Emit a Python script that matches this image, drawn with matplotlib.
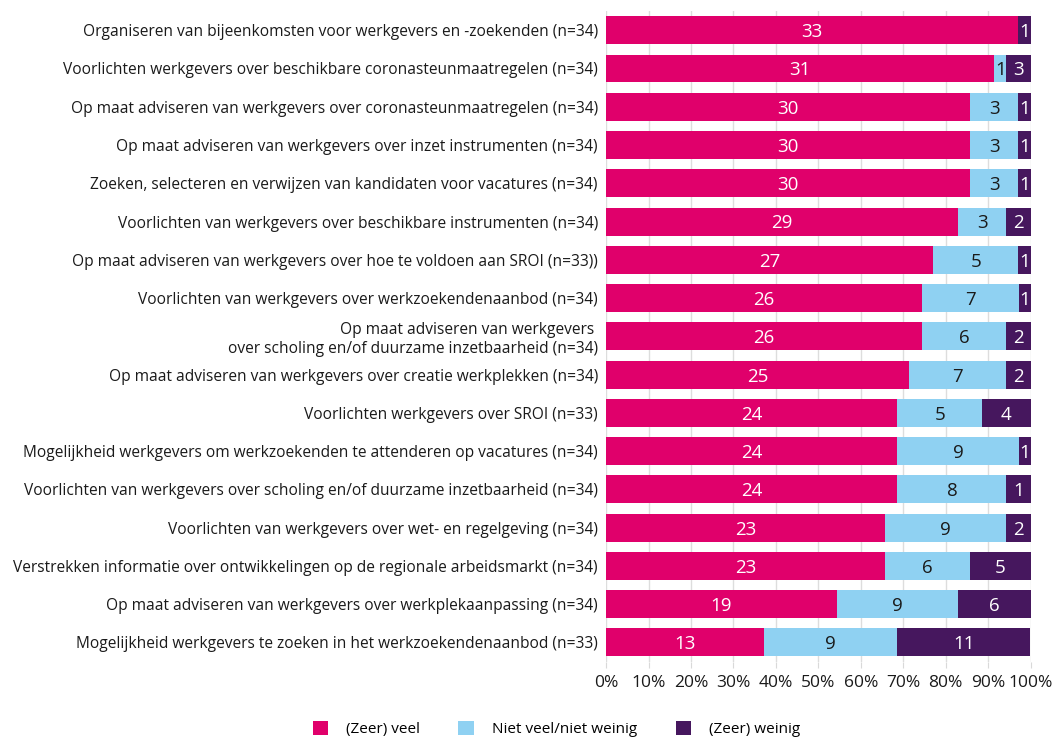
import numpy as np
import matplotlib
matplotlib.use("Agg")
from matplotlib import pyplot as plt
from matplotlib.patches import Patch

plt.rcParams['font.family'] = ['Open Sans', 'DejaVu Sans']

categories = [
    "Organiseren van bijeenkomsten voor werkgevers en -zoekenden (n=34)",
    "Voorlichten werkgevers over beschikbare coronasteunmaatregelen (n=34)",
    "Op maat adviseren van werkgevers over coronasteunmaatregelen (n=34)",
    "Op maat adviseren van werkgevers over inzet instrumenten (n=34)",
    "Zoeken, selecteren en verwijzen van kandidaten voor vacatures (n=34)",
    "Voorlichten van werkgevers over beschikbare instrumenten (n=34)",
    "Op maat adviseren van werkgevers over hoe te voldoen aan SROI (n=33))",
    "Voorlichten van werkgevers over werkzoekendenaanbod (n=34)",
    "Op maat adviseren van werkgevers \nover scholing en/of duurzame inzetbaarheid (n=34)",
    "Op maat adviseren van werkgevers over creatie werkplekken (n=34)",
    "Voorlichten werkgevers over SROI (n=33)",
    "Mogelijkheid werkgevers om werkzoekenden te attenderen op vacatures (n=34)",
    "Voorlichten van werkgevers over scholing en/of duurzame inzetbaarheid (n=34)",
    "Voorlichten van werkgevers over wet- en regelgeving (n=34)",
    "Verstrekken informatie over ontwikkelingen op de regionale arbeidsmarkt (n=34)",
    "Op maat adviseren van werkgevers over werkplekaanpassing (n=34)",
    "Mogelijkheid werkgevers te zoeken in het werkzoekendenaanbod (n=33)",
]

series = ["(Zeer) veel", "Niet veel/niet weinig", "(Zeer) weinig"]

# counts shown as labels
veel_n = [33, 31, 30, 30, 30, 29, 27, 26, 26, 25, 24, 24, 24, 23, 23, 19, 13]
neutraal_n = [0, 1, 3, 3, 3, 3, 5, 7, 6, 7, 5, 9, 8, 9, 6, 9, 9]
weinig_n = [1, 3, 1, 1, 1, 2, 1, 1, 2, 2, 4, 1, 1, 2, 5, 6, 11]

# bar widths in percent
veel_pct = [97.1, 91.4, 85.7, 85.7, 85.7, 82.9, 77.1, 74.3, 74.3, 71.4,
            68.6, 68.6, 68.6, 65.7, 65.7, 54.3, 37.1]
neutraal_pct = [0.0, 2.9, 11.4, 11.4, 11.4, 11.4, 20.0, 22.9, 20.0, 22.9,
                20.0, 28.6, 25.7, 28.6, 20.0, 28.6, 31.4]
weinig_pct = [2.9, 5.7, 2.9, 2.9, 2.9, 5.7, 2.9, 2.9, 5.7, 5.7,
              11.4, 2.9, 5.7, 5.7, 14.3, 17.1, 31.4]

colors = ["#E0006B", "#8FD1F2", "#46175E"]
text_colors = ["white", "#1a1a1a", "white"]

fig = plt.figure(figsize=(10.56, 7.4), dpi=100)
ax = fig.add_axes([0.574, 0.106, 0.402, 0.879])

y = np.arange(len(categories))
left = np.zeros(len(categories))
for pct, counts, c, tc, name in zip([veel_pct, neutraal_pct, weinig_pct],
                                    [veel_n, neutraal_n, weinig_n],
                                    colors, text_colors, series):
    pct = np.array(pct)
    ax.barh(y, pct, left=left, height=0.73, color=c, label=name, zorder=3)
    for yi, l, w, n in zip(y, left, pct, counts):
        if n > 0:
            ax.text(l + w / 2, yi + 0.05, str(n), ha='center', va='center',
                    color=tc, fontsize=13.5, zorder=4)
    left += pct

ax.set_xlim(0, 100)
ax.set_ylim(len(categories) - 0.5, -0.5)
ax.set_yticks(y)
ax.set_yticklabels(categories, fontsize=11.2, color="#1a1a1a")
ax.set_xticks(np.arange(0, 101, 10))
ax.set_xticklabels([f"{v}%" for v in range(0, 101, 10)], fontsize=12.5, color="#1a1a1a")
ax.tick_params(axis='y', length=0, pad=6)
ax.tick_params(axis='x', length=4, color="#d9d9d9", pad=6)
ax.grid(axis='x', color="#dddddd", linewidth=1, zorder=0)
for s in ax.spines.values():
    s.set_visible(False)

handles = [Patch(facecolor=c, label=s) for c, s in zip(colors, series)]
fig.legend(handles=handles, loc='lower center', bbox_to_anchor=(0.527, -0.015),
           ncol=3, frameon=False, fontsize=11, handlelength=1.0, handleheight=1.0,
           columnspacing=2.5, handletextpad=1.2)

fig.savefig("out.png", dpi=100)
